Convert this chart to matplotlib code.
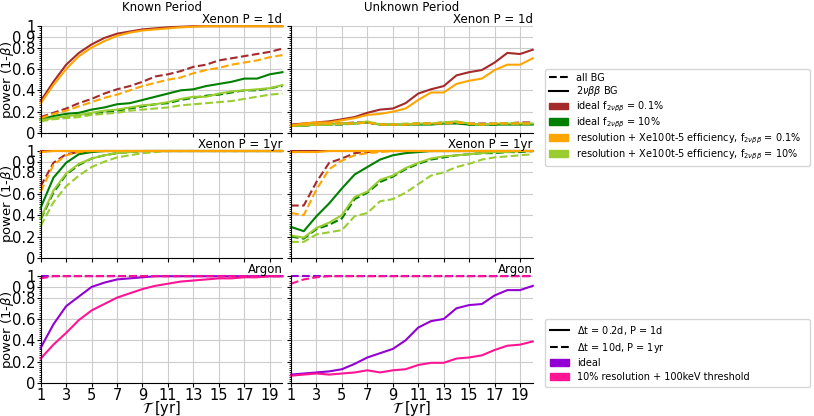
import matplotlib
matplotlib.use("Agg")
import matplotlib.pyplot as plt
import matplotlib.patches as mpatches
from matplotlib.lines import Line2D
from matplotlib.ticker import MultipleLocator

years = list(range(1, 21))

# ---------- Xenon P = 1d, known period ----------
k1_brown_solid = [0.30,0.48,0.64,0.75,0.83,0.89,0.93,0.95,0.97,0.98,0.99,0.995,1,1,1,1,1,1,1,1]
k1_orange_solid = [0.28,0.45,0.60,0.72,0.80,0.86,0.91,0.94,0.96,0.97,0.98,0.99,0.995,1,1,1,1,1,1,1]
k1_brown_dash = [0.15,0.19,0.23,0.28,0.32,0.37,0.41,0.44,0.48,0.53,0.55,0.58,0.62,0.64,0.68,0.70,0.72,0.74,0.76,0.79]
k1_orange_dash = [0.14,0.18,0.21,0.25,0.29,0.33,0.36,0.40,0.44,0.47,0.50,0.52,0.56,0.59,0.61,0.64,0.66,0.68,0.71,0.73]
k1_green_solid = [0.13,0.16,0.18,0.19,0.22,0.24,0.27,0.28,0.31,0.34,0.37,0.40,0.41,0.44,0.46,0.48,0.51,0.51,0.55,0.57]
k1_green_dash = [0.12,0.14,0.15,0.17,0.18,0.20,0.21,0.23,0.25,0.27,0.28,0.31,0.33,0.35,0.36,0.38,0.40,0.40,0.42,0.44]
k1_yg_solid = [0.12,0.14,0.16,0.17,0.19,0.21,0.22,0.24,0.26,0.27,0.29,0.32,0.34,0.34,0.37,0.39,0.40,0.41,0.42,0.45]
k1_yg_dash = [0.11,0.13,0.14,0.15,0.17,0.18,0.19,0.21,0.22,0.23,0.24,0.26,0.27,0.28,0.29,0.30,0.32,0.34,0.36,0.37]

# ---------- Xenon P = 1d, unknown period ----------
u1_brown_solid = [0.08,0.09,0.10,0.11,0.13,0.15,0.19,0.22,0.23,0.28,0.37,0.41,0.44,0.54,0.57,0.59,0.66,0.75,0.74,0.78]
u1_orange_solid = [0.07,0.09,0.10,0.10,0.12,0.14,0.17,0.18,0.20,0.23,0.31,0.38,0.38,0.46,0.49,0.51,0.59,0.64,0.64,0.70]
u1_brown_dash = [0.07,0.08,0.09,0.09,0.09,0.10,0.10,0.08,0.08,0.08,0.09,0.09,0.10,0.10,0.09,0.09,0.09,0.09,0.10,0.10]
u1_orange_dash = [0.07,0.08,0.08,0.09,0.09,0.09,0.10,0.08,0.08,0.08,0.09,0.09,0.09,0.10,0.09,0.08,0.09,0.09,0.09,0.09]
u1_green_solid = [0.07,0.07,0.08,0.08,0.09,0.09,0.10,0.08,0.08,0.08,0.08,0.08,0.09,0.09,0.08,0.08,0.08,0.08,0.08,0.08]
u1_green_dash = [0.07,0.07,0.08,0.08,0.08,0.09,0.10,0.08,0.08,0.08,0.09,0.09,0.09,0.10,0.08,0.08,0.08,0.09,0.09,0.09]
u1_yg_solid = [0.07,0.07,0.08,0.08,0.09,0.09,0.11,0.08,0.08,0.08,0.09,0.09,0.10,0.11,0.09,0.08,0.09,0.09,0.09,0.09]
u1_yg_dash = [0.07,0.08,0.08,0.08,0.09,0.09,0.10,0.08,0.08,0.09,0.09,0.09,0.10,0.10,0.09,0.08,0.09,0.09,0.09,0.09]

# ---------- Xenon P = 1yr, known period ----------
k2_brown_solid = [1.0]*20
k2_orange_solid = [0.99] + [1.0]*19
k2_brown_dash = [0.67,0.89,0.97,0.99] + [1.0]*16
k2_orange_dash = [0.62,0.87,0.96,0.99] + [1.0]*16
k2_green_solid = [0.47,0.75,0.89,0.97,0.99] + [1.0]*15
k2_green_dash = [0.36,0.61,0.78,0.87,0.93,0.96,0.98,0.99] + [1.0]*12
k2_yg_solid = [0.37,0.63,0.79,0.88,0.93,0.96,0.98,0.99] + [1.0]*12
k2_yg_dash = [0.30,0.52,0.67,0.77,0.85,0.90,0.94,0.96,0.98,0.99] + [1.0]*10

# ---------- Xenon P = 1yr, unknown period ----------
u2_brown_solid = [1.0]*20
u2_orange_solid = [0.99]*3 + [1.0]*17
u2_brown_dash = [0.49,0.49,0.71,0.89,0.93,0.98,0.99] + [1.0]*13
u2_orange_dash = [0.42,0.40,0.64,0.83,0.91,0.96,0.98,0.99] + [1.0]*12
u2_green_solid = [0.29,0.25,0.39,0.51,0.65,0.78,0.85,0.92,0.96,0.98,0.99] + [1.0]*9
u2_green_dash = [0.20,0.18,0.27,0.31,0.37,0.55,0.61,0.71,0.76,0.83,0.88,0.92,0.94,0.96,0.97,0.98,0.98,0.99,0.99,1.0]
u2_yg_solid = [0.21,0.19,0.28,0.33,0.40,0.57,0.62,0.73,0.77,0.84,0.89,0.93,0.95,0.96,0.97,0.98,0.99,0.99,1.0,1.0]
u2_yg_dash = [0.15,0.15,0.22,0.24,0.26,0.39,0.42,0.53,0.55,0.61,0.69,0.77,0.80,0.85,0.88,0.92,0.94,0.95,0.96,0.97]

# ---------- Argon, known period ----------
k3_violet_solid = [0.33,0.55,0.72,0.81,0.90,0.94,0.97,0.98,0.99] + [1.0]*11
k3_pink_solid = [0.23,0.36,0.47,0.59,0.68,0.74,0.80,0.84,0.88,0.91,0.93,0.95,0.96,0.97,0.98,0.98,0.99,0.99,1.0,1.0]
k3_violet_dash = [1.0]*20
k3_pink_dash = [0.98] + [1.0]*19

# ---------- Argon, unknown period ----------
u3_violet_solid = [0.08,0.09,0.10,0.11,0.13,0.18,0.24,0.28,0.32,0.40,0.52,0.58,0.60,0.70,0.73,0.74,0.82,0.87,0.87,0.91]
u3_pink_solid = [0.07,0.08,0.09,0.08,0.09,0.10,0.12,0.10,0.12,0.13,0.17,0.19,0.19,0.23,0.24,0.26,0.31,0.35,0.36,0.39]
u3_violet_dash = [1.0]*20
u3_pink_dash = [0.93,0.97,0.99] + [1.0]*17

BROWN = "#a52a2a"
GREEN = "#008000"
ORANGE = "#ffa500"
YG = "#9acd32"
VIOLET = "#9400d3"
PINK = "#ff1493"

fig = plt.figure(figsize=(8.14, 4.16), dpi=100)

lefts = [0.050, 0.3575]
w = 0.297
bottoms = [0.680, 0.380, 0.079]
h = 0.257

xen_series = lambda bs, os, bd, od, gs, gd, ys, yd: [
    (bs, BROWN, '-'), (bd, BROWN, '--'),
    (gs, GREEN, '-'), (gd, GREEN, '--'),
    (ys, YG, '-'), (yd, YG, '--'),
    (os, ORANGE, '-'), (od, ORANGE, '--'),
]

panels = [
    [xen_series(k1_brown_solid, k1_orange_solid, k1_brown_dash, k1_orange_dash,
                k1_green_solid, k1_green_dash, k1_yg_solid, k1_yg_dash),
     xen_series(u1_brown_solid, u1_orange_solid, u1_brown_dash, u1_orange_dash,
                u1_green_solid, u1_green_dash, u1_yg_solid, u1_yg_dash)],
    [xen_series(k2_brown_solid, k2_orange_solid, k2_brown_dash, k2_orange_dash,
                k2_green_solid, k2_green_dash, k2_yg_solid, k2_yg_dash),
     xen_series(u2_brown_solid, u2_orange_solid, u2_brown_dash, u2_orange_dash,
                u2_green_solid, u2_green_dash, u2_yg_solid, u2_yg_dash)],
    [[(k3_violet_solid, VIOLET, '-'), (k3_pink_solid, PINK, '-'),
      (k3_violet_dash, VIOLET, '--'), (k3_pink_dash, PINK, '--')],
     [(u3_violet_solid, VIOLET, '-'), (u3_pink_solid, PINK, '-'),
      (u3_violet_dash, VIOLET, '--'), (u3_pink_dash, PINK, '--')]],
]
row_labels = ["Xenon P = 1d", "Xenon P = 1yr", "Argon"]

yticks = [0, 0.2, 0.4, 0.6, 0.8, 0.9, 1]
yticklabels = ["0", "0.2", "0.4", "0.6", "0.8", "0.9", "1"]
xticks = list(range(1, 20, 2))

for r in range(3):
    for c in range(2):
        ax = fig.add_axes([lefts[c], bottoms[r], w, h])
        for vals, col, ls in panels[r][c]:
            ax.plot(years, vals, color=col, ls=ls, lw=1.5, clip_on=False)
        ax.set_xlim(1, 20)
        ax.set_ylim(0, 1)
        ax.set_xticks(xticks)
        ax.set_yticks(yticks)
        ax.yaxis.set_minor_locator(MultipleLocator(0.02))
        ax.grid(True, color="#cccccc", lw=0.8)
        ax.set_axisbelow(True)
        ax.spines['top'].set_visible(False)
        ax.spines['right'].set_visible(False)
        ax.tick_params(axis='both', labelsize=10.5, length=3, pad=0.5)
        ax.tick_params(axis='y', which='minor', length=1.5)
        if c == 0:
            ax.set_yticklabels(yticklabels)
            ax.set_ylabel(r"power (1-$\beta$)", fontsize=9.5)
            ax.yaxis.set_label_coords(-0.104, 0.5)
        else:
            ax.set_yticklabels([])
        if r == 2:
            ax.set_xlabel(r"$\mathcal{T}$ [yr]", fontsize=10.5, labelpad=-3)
        else:
            ax.set_xticklabels([])
        ax.set_title(row_labels[r], loc='right', fontsize=8.5, pad=1)

fig.text(lefts[0] + w / 2, 0.982, "Known Period", ha='center', va='center', fontsize=8.5)
fig.text(lefts[1] + w / 2, 0.982, "Unknown Period", ha='center', va='center', fontsize=8.5)

leg_x0 = 545 / 814
leg_w = (810 - 545) / 814

h1 = [Line2D([], [], color='k', ls='--', lw=1.5),
      Line2D([], [], color='k', ls='-', lw=1.5),
      mpatches.Patch(color=BROWN), mpatches.Patch(color=GREEN),
      mpatches.Patch(color=ORANGE), mpatches.Patch(color=YG)]
l1 = ["all BG", r"$2\nu\beta\beta$ BG",
      r"ideal f$_{2\nu\beta\beta}$ = 0.1%", r"ideal f$_{2\nu\beta\beta}$ = 10%",
      r"resolution + Xe100t-5 efficiency, f$_{2\nu\beta\beta}$ = 0.1%",
      r"resolution + Xe100t-5 efficiency, f$_{2\nu\beta\beta}$ = 10%"]
fig.legend(h1, l1, loc='upper left', bbox_to_anchor=(leg_x0, 1 - 69 / 416, leg_w, 0.0),
           mode='expand', borderaxespad=0, fontsize=7,
           frameon=True, borderpad=0.4, labelspacing=0.15, handlelength=2.0)

h2 = [Line2D([], [], color='k', ls='-', lw=1.5),
      Line2D([], [], color='k', ls='--', lw=1.5),
      mpatches.Patch(color=VIOLET), mpatches.Patch(color=PINK)]
l2 = [r"$\Delta$t = 0.2d, P = 1d", r"$\Delta$t = 10d, P = 1yr", "ideal",
      "10% resolution + 100keV threshold"]
fig.legend(h2, l2, loc='upper left', bbox_to_anchor=(leg_x0, 1 - 319 / 416, leg_w, 0.0),
           mode='expand', borderaxespad=0, fontsize=7,
           frameon=True, borderpad=0.5, labelspacing=0.38, handlelength=2.0)

fig.savefig("out.png", dpi=100)
